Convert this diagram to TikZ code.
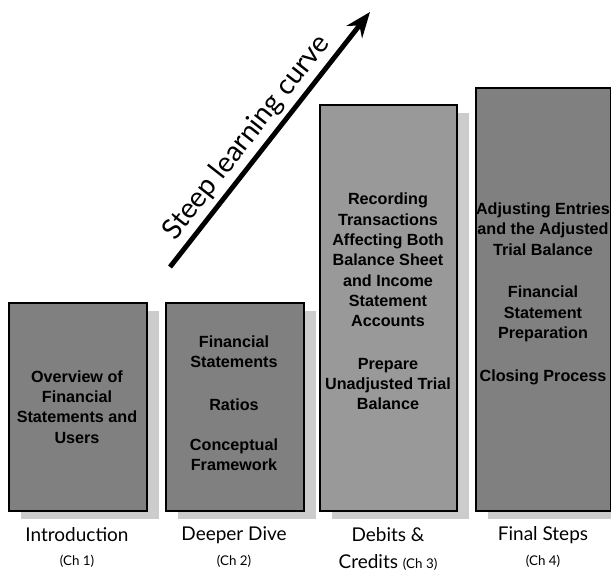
\documentclass[tikz,border=0pt]{standalone}
\usepackage{fontspec}
\setmainfont{Lato}
\newfontfamily\barfont{Liberation Sans}
\usetikzlibrary{arrows.meta,shadows}
\definecolor{barfill}{gray}{0.5}
\definecolor{lightbarfill}{gray}{0.6}
\definecolor{shadowgray}{gray}{0.8}

\begin{document}
\begin{tikzpicture}[x=0.025cm,y=-0.025cm,
	bar/.style={draw=black, line width=1.2pt, fill=barfill, anchor=north west, inner sep=0pt,
		drop shadow={shadow xshift=0.3cm, shadow yshift=-0.2cm, fill=shadowgray, opacity=1}},
	bartext/.style={align=center, inner sep=0pt, text=black,
		font=\barfont\bfseries\fontsize{11.5}{14.5}\selectfont},
	chapter/.style={align=center, inner sep=0pt, font=\fontsize{13.5}{16}\selectfont},
	chnum/.style={inner sep=0pt, font=\fontsize{9.5}{11}\selectfont}]
					\useasboundingbox (0,0) rectangle (611,574);
					\node[bar, minimum width=3.45cm, minimum height=5.2cm]  (introbar) at (8,302) {};
					\node[bar, minimum width=3.45cm, minimum height=5.2cm]  (divebar) at (165,302) {};
					\node[bar, fill=lightbarfill, minimum width=3.43cm, minimum height=10.15cm] (debitbar) at (319,104) {};
					\node[bar, minimum width=3.38cm, minimum height=10.58cm] (finalbar) at (475,87) {};
					\node[bartext] (intro1) at (77,407) {Overview of\\Financial\\Statements and\\Users};
					\node[bartext] (dive1) at (234,352) {Financial\\Statements};
					\node[bartext] (dive2) at (234,405) {Ratios};
					\node[bartext] (dive3) at (234,455) {Conceptual\\Framework};
					\node[bartext] (debit1) at (388,260) {Recording\\Transactions\\Affecting Both\\Balance Sheet\\and Income\\Statement\\Accounts};
					\node[bartext] (debit2) at (388,384) {Prepare\\Unadjusted Trial\\Balance};
					\node[bartext] (final1) at (543,229) {Adjusting Entries\\and the Adjusted\\Trial Balance};
					\node[bartext] (final2) at (543,314) {Financial\\Statement\\Preparation};
					\node[bartext] (final3) at (543,377) {Closing Process};

					\node[chapter] (introlab) at (77,535) {Introduction};
					\node[chnum] (intronum) at (77,561) {(Ch 1)};
					\node[chapter] (divelab) at (234,535) {Deeper Dive};
					\node[chnum] (divenum) at (234,561) {(Ch 2)};
					\node[chapter] (debitlab) at (388,535) {Debits \&};
					\node[chapter] (debitnum) at (388,562) {Credits {\fontsize{9.5}{11}\selectfont (Ch 3)}};
					\node[chapter] (finallab) at (543,535) {Final Steps};
					\node[chnum] (finalnum) at (543,561) {(Ch 4)};

					\coordinate (tail) at (170,267);
					\coordinate (head) at (370,12);
					\draw[line width=3.5pt, -{Stealth[length=18pt, width=14pt]}] (tail) -- node[pos=0.46, sloped, above, inner sep=3pt, font=\fontsize{20}{24}\selectfont] (curve) {Steep learning curve} (head);
				\end{tikzpicture}
\end{document}
